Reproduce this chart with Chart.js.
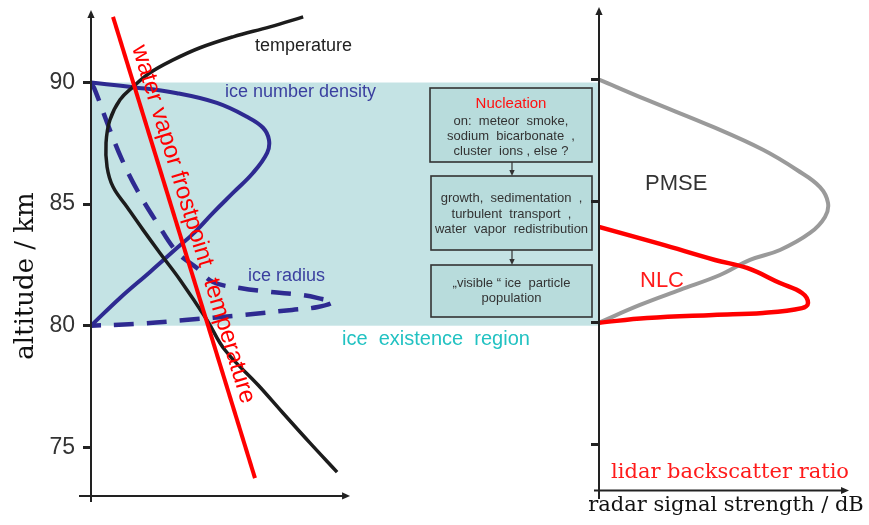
<!DOCTYPE html>
<html>
<head>
<meta charset="utf-8">
<script src="https://cdn.jsdelivr.net/npm/chart.js@4/dist/chart.umd.min.js"></script>
<style>
  html, body { margin: 0; padding: 0; background: #ffffff; }
  #wrap { position: relative; width: 869px; height: 525px; overflow: hidden; }
  #wrap canvas { position: absolute; left: 0; top: 0; }
</style>
</head>
<body>
<div id="wrap">
  <canvas id="profiles" width="869" height="525"></canvas>
  <canvas id="signals" width="869" height="525"></canvas>
</div>
<script>
// Altitude axis (km)
const altitudeTicks = [75, 80, 85, 90];
const iceRegionAlt = [80, 90];
const altitudeRange = [72.75, 92.9];

// Left panel: schematic profiles (x in arbitrary units, 100 = arrow tip)
const temperatureX   = [81.9, 69.1, 54.8, 42.1, 31.7, 22.8, 16.2, 11.2, 7.3, 5.8, 6.2, 8.5, 13.9, 20.1, 26.6, 34.4, 44.8, 51.7, 64.5, 74.1, 84.6, 95.0];
const temperatureAlt = [92.70, 92.29, 91.88, 91.43, 90.93, 90.40, 89.82, 89.29, 88.46, 87.52, 86.53, 85.71, 84.88, 83.94, 82.99, 81.88, 80.23, 79.00, 77.56, 76.41, 75.17, 73.98];

const frostpointX   = [8.5, 63.3];
const frostpointAlt = [92.70, 73.73];

const densityX   = [0, 16.2, 33.2, 48.6, 60.2, 66.4, 68.7, 68.0, 62.5, 54.8, 47.1, 40.2, 32.4, 22.8, 11.2, 0];
const densityAlt = [90, 89.81, 89.56, 89.16, 88.59, 88.14, 87.64, 87.11, 86.28, 85.46, 84.64, 83.86, 83.12, 82.21, 81.14, 80];

const radiusX   = [0, 1.5, 7.3, 12.0, 17.8, 25.5, 33.2, 40.9, 47.1, 57.5, 69.1, 81.5, 89.2, 93.4, 87.6, 77.6, 58.3, 36.3, 17.0, 0];
const radiusAlt = [90, 89.70, 88.05, 86.82, 85.58, 84.23, 83.03, 82.37, 81.80, 81.55, 81.39, 81.26, 81.10, 80.98, 80.77, 80.65, 80.44, 80.23, 80.07, 80];

// Right panel: radar (PMSE) and lidar (NLC) signals
const pmseX   = [0, 19.2, 45.6, 65.6, 79.2, 88.4, 91.6, 90.4, 84.4, 72.4, 60.4, 48.4, 32.4, 16.4, 0];
const pmseAlt = [90, 89.16, 88.05, 87.11, 86.28, 85.58, 84.93, 84.35, 83.69, 82.99, 82.58, 81.96, 81.35, 80.73, 80];

const nlcX   = [0, 24.4, 46.4, 59.2, 72.4, 81.2, 83.6, 81.2, 65.6, 45.6, 19.2, 0];
const nlcAlt = [83.94, 83.24, 82.58, 82.25, 81.63, 81.22, 80.81, 80.60, 80.40, 80.32, 80.19, 80];

// Process boxes inside the ice existence region
const boxTexts = [
  ['Nucleation', 'on:  meteor  smoke,', 'sodium  bicarbonate  ,', 'cluster  ions , else ?'],
  ['growth,  sedimentation  ,', 'turbulent  transport  ,', 'water  vapor  redistribution'],
  ['\u201Evisible \u201C ice  particle', 'population']
];

const SANS = '"Liberation Sans", Arial, Helvetica, sans-serif';
const SERIF = '"DejaVu Serif", "Liberation Serif", serif';
const pts = (xs, ys) => xs.map((v, i) => ({ x: v, y: ys[i] }));

function arrowLine(ctx, x0, y0, x1, y1, head) {
  const a = Math.atan2(y1 - y0, x1 - x0);
  ctx.beginPath();
  ctx.moveTo(x0, y0);
  ctx.lineTo(x1 - Math.cos(a) * head * 0.8, y1 - Math.sin(a) * head * 0.8);
  ctx.stroke();
  ctx.beginPath();
  ctx.moveTo(x1, y1);
  ctx.lineTo(x1 - head * Math.cos(a) + head * 0.45 * Math.sin(a), y1 - head * Math.sin(a) - head * 0.45 * Math.cos(a));
  ctx.lineTo(x1 - head * Math.cos(a) - head * 0.45 * Math.sin(a), y1 - head * Math.sin(a) + head * 0.45 * Math.cos(a));
  ctx.closePath();
  ctx.fill();
}

const profileDecor = {
  id: 'profileDecor',
  beforeDatasetsDraw(chart) {
    const { ctx, chartArea, scales: { x, y } } = chart;
    const top = y.getPixelForValue(iceRegionAlt[1]);
    const bot = y.getPixelForValue(iceRegionAlt[0]);
    ctx.save();
    ctx.fillStyle = '#c4e3e4';
    ctx.fillRect(chartArea.left, top, chartArea.right - chartArea.left, bot - top);

    // flow boxes
    const frames = [[430, 88, 592, 162], [431, 176, 592, 250], [431, 265, 592, 317]];
    const baselines = [[108, 125, 140, 155], [202, 218, 233], [287, 302]];
    frames.forEach((f, i) => {
      ctx.fillStyle = '#b8dcdc';
      ctx.fillRect(f[0], f[1], f[2] - f[0], f[3] - f[1]);
      ctx.strokeStyle = '#333333';
      ctx.lineWidth = 1.6;
      ctx.strokeRect(f[0], f[1], f[2] - f[0], f[3] - f[1]);
      const cx = (f[0] + f[2]) / 2;
      ctx.textAlign = 'center';
      ctx.textBaseline = 'alphabetic';
      boxTexts[i].forEach((t, j) => {
        if (i === 0 && j === 0) {
          ctx.fillStyle = '#ff1010';
          ctx.font = '15px ' + SANS;
        } else {
          ctx.fillStyle = '#333333';
          ctx.font = '13px ' + SANS;
        }
        ctx.fillText(t, cx, baselines[i][j]);
      });
    });
    ctx.strokeStyle = '#333333';
    ctx.fillStyle = '#333333';
    ctx.lineWidth = 1.2;
    arrowLine(ctx, 512, 162, 512, 176, 6);
    arrowLine(ctx, 512, 250, 512, 265, 6);
    ctx.restore();
  },
  afterDatasetsDraw(chart) {
    const { ctx, chartArea, scales: { x, y } } = chart;
    ctx.save();
    // axes with arrows
    ctx.strokeStyle = '#222222';
    ctx.fillStyle = '#222222';
    ctx.lineWidth = 2;
    ctx.beginPath();
    ctx.moveTo(chartArea.left, chartArea.bottom);
    ctx.lineTo(chartArea.left, chartArea.top + 6);
    ctx.stroke();
    arrowLine(ctx, chartArea.left, chartArea.top + 8, chartArea.left, chartArea.top - 2, 8);
    const axisY = y.getPixelForValue(73);
    arrowLine(ctx, chartArea.left - 12, axisY, x.getPixelForValue(100), axisY, 8);

    // curve labels
    ctx.textAlign = 'left';
    ctx.textBaseline = 'alphabetic';
    ctx.font = '18px ' + SANS;
    ctx.fillStyle = '#222222';
    ctx.fillText('temperature', 255, 51);
    ctx.fillStyle = '#3a3f9f';
    ctx.fillText('ice number density', 225, 97);
    ctx.fillText('ice radius', 248, 281);
    ctx.fillStyle = '#22c2c2';
    ctx.font = '20px ' + SANS;
    ctx.fillText('ice  existence  region', 342, 345);

    // label along the frostpoint line
    const x0 = x.getPixelForValue(frostpointX[0]), y0 = y.getPixelForValue(frostpointAlt[0]);
    const x1 = x.getPixelForValue(frostpointX[1]), y1 = y.getPixelForValue(frostpointAlt[1]);
    ctx.translate(x0, y0);
    ctx.rotate(Math.atan2(y1 - y0, x1 - x0));
    ctx.fillStyle = '#ff0000';
    ctx.font = '24px ' + SANS;
    ctx.fillText('water vapor frostpoint  temperature', 35, -9);
    ctx.restore();

    // axis title
    ctx.save();
    ctx.translate(33, 276);
    ctx.rotate(-Math.PI / 2);
    ctx.textAlign = 'center';
    ctx.fillStyle = '#111111';
    ctx.font = '26px ' + SERIF;
    ctx.fillText('altitude / km', 0, 0);
    ctx.restore();
  }
};

const signalDecor = {
  id: 'signalDecor',
  afterDatasetsDraw(chart) {
    const { ctx, chartArea, scales: { x, y } } = chart;
    ctx.save();
    ctx.strokeStyle = '#222222';
    ctx.fillStyle = '#222222';
    ctx.lineWidth = 2;
    ctx.beginPath();
    ctx.moveTo(chartArea.left, chartArea.bottom);
    ctx.lineTo(chartArea.left, chartArea.top + 6);
    ctx.stroke();
    arrowLine(ctx, chartArea.left, chartArea.top + 8, chartArea.left, chartArea.top - 2, 8);
    const axisY = y.getPixelForValue(73.1);
    arrowLine(ctx, chartArea.left - 5, axisY, x.getPixelForValue(100), axisY, 8);

    ctx.textBaseline = 'alphabetic';
    ctx.textAlign = 'left';
    ctx.font = '22px ' + SANS;
    ctx.fillStyle = '#333333';
    ctx.fillText('PMSE', 645, 190);
    ctx.fillStyle = '#ff1a1a';
    ctx.fillText('NLC', 640, 287);

    ctx.textAlign = 'center';
    ctx.font = '21px ' + SERIF;
    ctx.fillStyle = '#ff1a1a';
    ctx.fillText('lidar backscatter ratio', 730, 478);
    ctx.fillStyle = '#111111';
    ctx.fillText('radar signal strength / dB', 726, 511);
    ctx.restore();
  }
};

// fixed axis box: no extra room reserved for the end tick labels
function fixAxis(width) {
  return function (s) {
    s.width = width;
    s.paddingTop = 0;
    s.paddingBottom = 0;
    s.paddingLeft = 0;
    s.paddingRight = 0;
  };
}

const tickGrid = { drawOnChartArea: false, drawTicks: true, tickLength: 8, lineWidth: 3, color: '#222222' };
const commonOptions = {
  responsive: false,
  animation: false,
  events: [],
  elements: { point: { radius: 0 }, line: { borderCapStyle: 'butt', borderJoinStyle: 'round' } },
  plugins: { legend: { display: false }, tooltip: { enabled: false } }
};

new Chart(document.getElementById('profiles'), {
  type: 'line',
  data: {
    datasets: [
      { label: 'water vapor frostpoint temperature', data: pts(frostpointX, frostpointAlt), borderColor: '#ff0000', borderWidth: 4, tension: 0 },
      { label: 'temperature', data: pts(temperatureX, temperatureAlt), borderColor: '#1c1c1c', borderWidth: 3.5, tension: 0.4 },
      { label: 'ice number density', data: pts(densityX, densityAlt), borderColor: '#2e2a91', borderWidth: 4, tension: 0.4 },
      { label: 'ice radius', data: pts(radiusX, radiusAlt), borderColor: '#2e2a91', borderWidth: 4.5, borderDash: [20, 13], tension: 0.4 }
    ]
  },
  options: Object.assign({}, commonOptions, {
    layout: { autoPadding: false, padding: { left: 0, top: 12, right: 270, bottom: 23 } },
    scales: {
      x: { type: 'linear', display: false, min: 0, max: 196.1 },
      y: {
        type: 'linear', min: altitudeRange[0], max: altitudeRange[1],
        afterFit: fixAxis(91),
        afterBuildTicks(s) { s.ticks = altitudeTicks.map(v => ({ value: v })); },
        border: { display: false },
        grid: tickGrid,
        ticks: { font: { family: SANS, size: 23 }, color: '#333333', padding: 8 }
      }
    }
  }),
  plugins: [profileDecor]
});

new Chart(document.getElementById('signals'), {
  type: 'line',
  data: {
    datasets: [
      { label: 'NLC', data: pts(nlcX, nlcAlt), borderColor: '#ff0000', borderWidth: 4.5, tension: 0.4 },
      { label: 'PMSE', data: pts(pmseX, pmseAlt), borderColor: '#9a9a9a', borderWidth: 4, tension: 0.4 }
    ]
  },
  options: Object.assign({}, commonOptions, {
    layout: { autoPadding: false, padding: { left: 591, top: 9, right: 20, bottom: 26 } },
    scales: {
      x: { type: 'linear', display: false, min: 0, max: 100 },
      y: {
        type: 'linear', min: altitudeRange[0], max: altitudeRange[1],
        afterFit: fixAxis(8),
        afterBuildTicks(s) { s.ticks = altitudeTicks.map(v => ({ value: v })); },
        border: { display: false },
        grid: tickGrid,
        ticks: { display: false }
      }
    }
  }),
  plugins: [signalDecor]
});
</script>
</body>
</html>
